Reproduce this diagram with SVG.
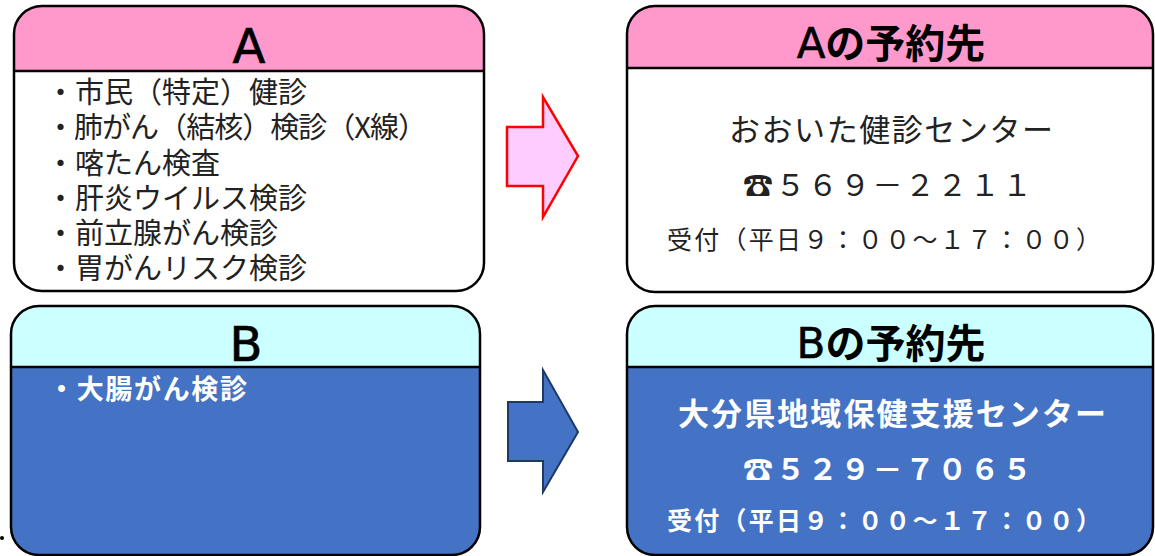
<svg xmlns="http://www.w3.org/2000/svg" width="1155" height="556" viewBox="0 0 1155 556">
<style>
text{font-family:"Noto Sans CJK JP","Noto Sans",sans-serif;}
.outline{fill:none;stroke:#000;stroke-width:2.5;}
.div{stroke:#000;stroke-width:2.5;}
.hdrA{fill:#FF99CC;}
.hdrB{fill:#CCFFFF;}
.bodyA{fill:#FFFFFF;}
.bodyB{fill:#4472C4;}
.title{font-family:"DejaVu Sans","Noto Sans CJK JP",sans-serif;font-size:48px;fill:#000;stroke:#000;stroke-width:0.7;text-anchor:middle;}
.title2{font-family:"DejaVu Sans","Noto Sans CJK JP",sans-serif;font-size:40px;font-weight:700;fill:#000;text-anchor:middle;}
.lat{font-weight:400;font-size:42px;stroke:#000;stroke-width:0.6;}
.list{font-size:29px;fill:#222;}
.dark{fill:#222;}
.white{fill:#fff;font-weight:700;}
</style>
<circle cx="2" cy="538" r="2" fill="#000"/>
<g id="nodeA">
<rect class="bodyA" x="14" y="6" width="470" height="285" rx="28"/>
<path class="hdrA" d="M14,34 A28,28 0 0 1 42,6 H456 A28,28 0 0 1 484,34 V71 H14 Z"/>
<line class="div" x1="14" y1="71" x2="484" y2="71"/>
<rect class="outline" x="14" y="6" width="470" height="285" rx="28"/>
<text class="title" x="249" y="63">A</text>
<text class="list" x="46" y="103">・市民（特定）健診</text>
<text class="list" x="46" y="138" textLength="381" lengthAdjust="spacing">・肺がん（結核）検診（X線）</text>
<text class="list" x="46" y="174">・喀たん検査</text>
<text class="list" x="46" y="209">・肝炎ウイルス検診</text>
<text class="list" x="46" y="244">・前立腺がん検診</text>
<text class="list" x="46" y="279">・胃がんリスク検診</text>
</g>
<g id="nodeB">
<rect class="bodyB" x="11" y="306" width="469" height="249" rx="28"/>
<path class="hdrB" d="M11,334 A28,28 0 0 1 39,306 H452 A28,28 0 0 1 480,334 V367 H11 Z"/>
<line class="div" x1="11" y1="367" x2="480" y2="367"/>
<rect class="outline" x="11" y="306" width="469" height="249" rx="28"/>
<text class="title" x="246" y="361">B</text>
<text class="white" x="48" y="399" font-size="27" textLength="199" lengthAdjust="spacing">・大腸がん検診</text>
</g>
<g id="nodeA2">
<rect class="bodyA" x="627" y="6" width="526" height="286" rx="28"/>
<path class="hdrA" d="M627,34 A28,28 0 0 1 655,6 H1125 A28,28 0 0 1 1153,34 V68 H627 Z"/>
<line class="div" x1="627" y1="68" x2="1153" y2="68"/>
<rect class="outline" x="627" y="6" width="526" height="286" rx="28"/>
<text class="title2" x="891" y="58"><tspan class="lat">A</tspan>の予約先</text>
<text class="dark" x="729" y="141" font-size="31" textLength="324" lengthAdjust="spacing">おおいた健診センター</text>
<text class="dark" x="743" y="196" font-size="30" textLength="289" lengthAdjust="spacing">☎５６９－２２１１</text>
<text class="dark" x="667" y="249" font-size="25" textLength="434" lengthAdjust="spacing">受付（平日９：００～１７：００）</text>
</g>
<g id="nodeB2">
<rect class="bodyB" x="627" y="306" width="526" height="249" rx="28"/>
<path class="hdrB" d="M627,334 A28,28 0 0 1 655,306 H1125 A28,28 0 0 1 1153,334 V367 H627 Z"/>
<line class="div" x1="627" y1="367" x2="1153" y2="367"/>
<rect class="outline" x="627" y="306" width="526" height="249" rx="28"/>
<text class="title2" x="891" y="358"><tspan class="lat">B</tspan>の予約先</text>
<text class="white" x="678" y="425" font-size="31" textLength="428" lengthAdjust="spacing">大分県地域保健支援センター</text>
<text class="white" x="743" y="480" font-size="30" textLength="289" lengthAdjust="spacing">☎５２９－７０６５</text>
<text class="white" x="667" y="530" font-size="25" textLength="434" lengthAdjust="spacing">受付（平日９：００～１７：００）</text>
</g>
<g id="connectors">
<polygon points="507,127 543,127 543,97 578,156 543,217 543,186 507,186" fill="#FFCCFF" stroke="#FF0000" stroke-width="2.5"/>
<polygon points="508,402 543,402 543,370 578,432 543,492 543,461 508,461" fill="#4472C4" stroke="#1F3864" stroke-width="2"/>
</g>
</svg>
